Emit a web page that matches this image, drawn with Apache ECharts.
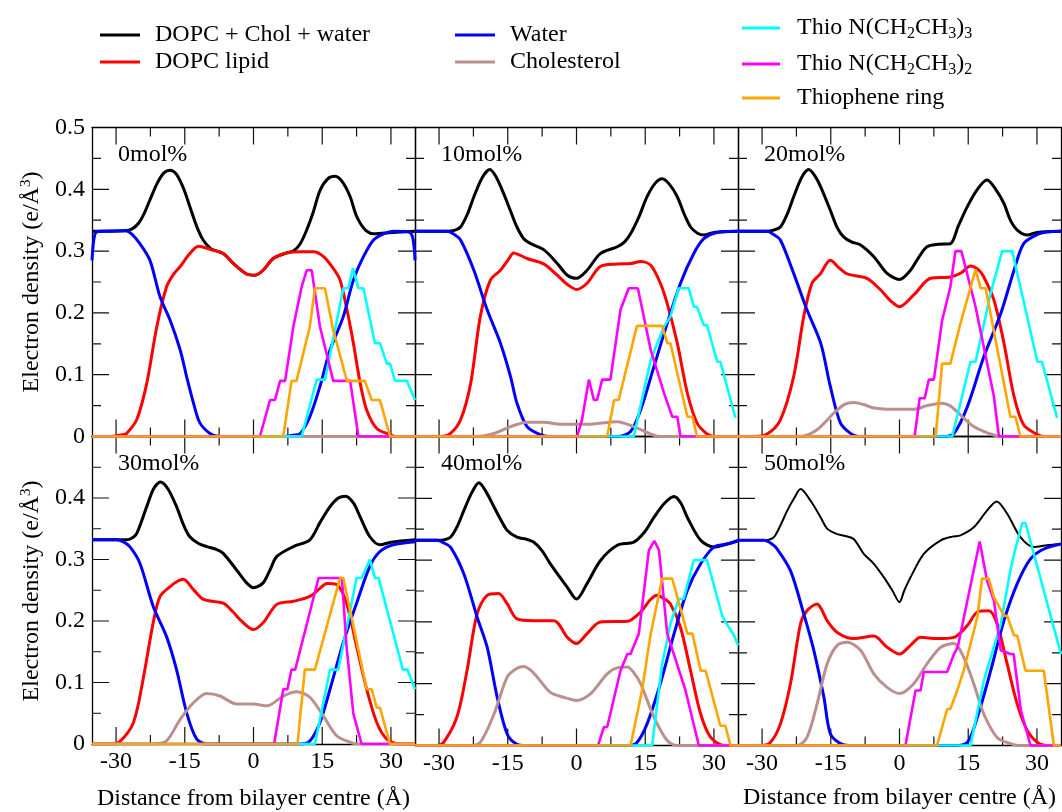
<!DOCTYPE html>
<html>
<head>
<meta charset="utf-8">
<title>Electron density profiles</title>
<script src="https://cdn.jsdelivr.net/npm/echarts@6/dist/echarts.min.js"></script>
<style>
  html, body { margin: 0; padding: 0; background: #fff; }
  #chart { width: 1062px; height: 812px; }
</style>
</head>
<body>
<div id="chart"></div>
<script>
// ---- data -------------------------------------------------------------
const panelLabels = ['0mol%', '10mol%', '20mol%', '30mol%', '40mol%', '50mol%'];
const seriesNames = ['DOPC + Chol + water', 'DOPC lipid', 'Water', 'Cholesterol',
  'Thio N(CH2CH3)3', 'Thio N(CH2CH3)2', 'Thiophene ring'];
const seriesColors = ['#000000', '#ff0000', '#0000ff', '#bc8f8f', '#00ffff', '#ff00ff', '#ffa500'];
const xMajorTicks = [-30, -15, 0, 15, 30];
const xMinorTicks = [-22.5, -7.5, 7.5, 22.5];
const yMajorTicks = [0.1, 0.2, 0.3, 0.4];
const yMinorTicks = [0.05, 0.15, 0.25, 0.35, 0.45];
const X_MIN = -35.25, X_MAX = 35.25;

// total density (DOPC + Chol + water), one profile per cholesterol content
const totalDensity = [
  [[-35.25,0.332],[-28,0.333],[-26.5,0.336],[-25.1,0.345],[-23.8,0.362],[-22.6,0.383],[-21,0.41],[-19.5,0.427],[-18.2,0.431],[-16.8,0.424],[-15.2,0.4],[-13.9,0.372],[-12.4,0.34],[-11,0.318],[-9.5,0.305],[-8.8,0.302],[-6.6,0.296],[-4.4,0.28],[-1.5,0.263],[0.3,0.261],[2.1,0.269],[4.3,0.288],[7.2,0.297],[8.7,0.3],[10.2,0.312],[11.6,0.334],[13,0.362],[14.5,0.398],[16.2,0.417],[17.8,0.421],[19.4,0.412],[21.1,0.388],[22.3,0.36],[23.3,0.345],[24.6,0.333],[26.2,0.328],[28,0.329],[35.25,0.332]],
  [[-35.25,0.332],[-28.2,0.332],[-26.5,0.334],[-25.3,0.339],[-23.8,0.36],[-22.4,0.388],[-20.5,0.42],[-18.9,0.432],[-17.4,0.418],[-15.9,0.393],[-14.4,0.365],[-13,0.339],[-11.5,0.32],[-10,0.312],[-7.1,0.302],[-4.2,0.28],[-2,0.261],[0,0.256],[2.3,0.269],[5.2,0.296],[8.9,0.307],[10.5,0.315],[11.8,0.328],[13.6,0.355],[15.4,0.388],[17.2,0.41],[18.7,0.417],[20.3,0.408],[22,0.388],[23.5,0.36],[24.9,0.339],[26.4,0.329],[27.8,0.326],[30,0.33],[35.25,0.332]],
  [[-35.25,0.332],[-28.9,0.332],[-27.5,0.334],[-26,0.339],[-24.5,0.36],[-23.1,0.388],[-21.3,0.42],[-19.8,0.432],[-18.5,0.422],[-17.2,0.404],[-15.1,0.366],[-13.6,0.338],[-12.2,0.323],[-10.5,0.315],[-8.5,0.31],[-5.6,0.291],[-2.7,0.264],[0,0.254],[2.4,0.269],[4.2,0.29],[6,0.307],[8.5,0.311],[11.1,0.312],[12.8,0.34],[14.8,0.372],[17,0.4],[19.1,0.415],[21,0.4],[22.8,0.377],[24.2,0.35],[25.7,0.334],[27.9,0.326],[30,0.33],[35.25,0.332]],
  [[-35.25,0.332],[-27.7,0.332],[-26.5,0.335],[-25.5,0.342],[-23.3,0.386],[-21.8,0.415],[-20.3,0.426],[-18.7,0.415],[-16.8,0.386],[-15.2,0.355],[-13.9,0.337],[-12,0.326],[-10.2,0.321],[-8,0.316],[-6.6,0.31],[-3.7,0.283],[-1.5,0.262],[0,0.254],[2.1,0.262],[3.6,0.283],[5.1,0.305],[8.7,0.321],[12.3,0.332],[14.5,0.36],[16.7,0.386],[18.5,0.4],[20.1,0.403],[21.8,0.392],[23.3,0.369],[25.4,0.337],[27.6,0.324],[30,0.328],[35.25,0.332]],
  [[-35.25,0.332],[-30.4,0.332],[-28.8,0.333],[-27.5,0.337],[-26,0.355],[-24.6,0.38],[-22.8,0.41],[-21.3,0.425],[-19.7,0.41],[-18,0.386],[-16.5,0.365],[-15.1,0.348],[-13,0.337],[-11,0.334],[-9.3,0.329],[-7.5,0.315],[-5.7,0.294],[-2,0.256],[0,0.237],[2.3,0.262],[5.2,0.299],[8.9,0.324],[12.5,0.329],[14.8,0.345],[16.9,0.369],[19.2,0.392],[21.3,0.403],[22.8,0.392],[24.2,0.369],[27.1,0.332],[30,0.321],[32.9,0.326],[35.25,0.332]],
  [[-35.25,0.332],[-29.6,0.332],[-28.5,0.333],[-27.4,0.337],[-26,0.356],[-24.5,0.38],[-23,0.4],[-21.6,0.415],[-19.4,0.396],[-17.2,0.369],[-15.8,0.351],[-13.6,0.342],[-11.8,0.339],[-10,0.334],[-7.8,0.31],[-5.6,0.294],[-3.4,0.272],[-1.5,0.25],[0,0.232],[1,0.25],[2.4,0.272],[5.3,0.31],[9,0.332],[11.5,0.338],[13.3,0.34],[16.2,0.353],[19.1,0.38],[21.2,0.395],[23.5,0.375],[26.4,0.337],[29.3,0.321],[32.2,0.324],[35.25,0.326]]
];

// DOPC lipid density
const lipidDensity = [
  [[-35.25,0],[-31,0],[-28.5,0.003],[-27.7,0.005],[-25.5,0.027],[-23.3,0.086],[-21.1,0.178],[-19,0.242],[-17.5,0.262],[-16,0.275],[-13.9,0.296],[-12,0.308],[-9.5,0.303],[-6.6,0.296],[-4.4,0.28],[-1.5,0.263],[0.3,0.261],[2.1,0.269],[4.3,0.288],[7.2,0.297],[10.2,0.299],[13.1,0.299],[15.3,0.291],[17.4,0.272],[18.9,0.253],[20.4,0.205],[21.8,0.151],[23.3,0.086],[24.7,0.043],[26.9,0.013],[29.8,0.003],[31,0],[35.25,0]],
  [[-35.25,0],[-29.7,0],[-27.5,0.005],[-25.3,0.027],[-23.1,0.086],[-21,0.194],[-18.8,0.253],[-16.6,0.269],[-15,0.285],[-13.7,0.297],[-12.5,0.294],[-10.8,0.288],[-7.1,0.279],[-4.2,0.261],[-2,0.246],[0,0.238],[2.3,0.248],[5.2,0.275],[8.9,0.279],[12,0.28],[14,0.283],[16.2,0.277],[18.3,0.248],[19.8,0.215],[22,0.151],[24.2,0.07],[26.3,0.022],[28.5,0.004],[30,0],[35.25,0]],
  [[-35.25,0],[-31.8,0],[-28.9,0.004],[-26,0.027],[-23.1,0.097],[-20.9,0.194],[-19.1,0.248],[-17.2,0.264],[-16,0.279],[-15.1,0.285],[-13.5,0.275],[-11.4,0.263],[-7.1,0.256],[-4.1,0.237],[-2,0.22],[0,0.21],[3.1,0.229],[6.8,0.256],[11.1,0.258],[13.5,0.265],[15.5,0.276],[17.2,0.27],[18.4,0.258],[20.6,0.221],[22.8,0.151],[25,0.065],[27.1,0.019],[30.1,0.003],[31.5,0],[35.25,0]],
  [[-35.25,0],[-31.3,0],[-29.2,0.004],[-26.2,0.035],[-24.1,0.105],[-21.9,0.197],[-20.4,0.24],[-18.2,0.256],[-16.5,0.265],[-15.3,0.268],[-13.1,0.251],[-10.9,0.235],[-6.6,0.229],[-4.5,0.215],[-2.9,0.202],[0,0.186],[2.1,0.197],[5.1,0.227],[8.7,0.232],[12.3,0.24],[14.5,0.253],[16,0.261],[18.2,0.259],[20.3,0.229],[22.5,0.159],[24.7,0.089],[26.9,0.035],[29.1,0.008],[32,0],[35.25,0]],
  [[-35.25,0],[-30.5,0],[-29,0.005],[-26.1,0.046],[-23.9,0.121],[-21.7,0.213],[-19.5,0.243],[-17,0.246],[-15.1,0.229],[-13,0.205],[-9.3,0.202],[-4.9,0.202],[-2,0.175],[0,0.165],[2.3,0.181],[5.2,0.2],[11.1,0.201],[14,0.216],[16,0.235],[17.6,0.243],[19,0.238],[20.5,0.229],[22.7,0.191],[24.9,0.121],[27.1,0.051],[29.3,0.013],[32.2,0],[35.25,0]],
  [[-35.25,0],[-30.5,0],[-28.2,0.005],[-26,0.035],[-23.8,0.1],[-21.6,0.197],[-20.2,0.218],[-18,0.229],[-17,0.22],[-15.8,0.202],[-13.6,0.183],[-10,0.173],[-5.6,0.177],[-2.7,0.159],[0,0.148],[2.4,0.162],[4.6,0.175],[8.2,0.173],[11.9,0.175],[14.8,0.194],[17,0.216],[19.5,0.218],[21.3,0.197],[23.5,0.132],[25.7,0.067],[27.9,0.024],[30.1,0.005],[32,0],[35.25,0]]
];

// water density
const waterDensity = [
  [[-35.25,0.285],[-34.6,0.328],[-33.5,0.332],[-28,0.333],[-26.5,0.327],[-24.8,0.312],[-22.6,0.285],[-20.4,0.226],[-18.2,0.188],[-16,0.14],[-14.6,0.097],[-13.1,0.054],[-11.7,0.022],[-9.5,0.005],[-7.5,0],[6.5,0],[8.5,0.002],[10.2,0.005],[12.3,0.032],[14.5,0.081],[16.7,0.14],[19.6,0.194],[21.8,0.253],[24,0.291],[26.2,0.318],[28.4,0.328],[30.5,0.332],[34.2,0.33],[35.25,0.285]],
  [[-35.25,0.332],[-28.2,0.332],[-26.7,0.327],[-25.3,0.318],[-22.4,0.269],[-19.5,0.205],[-16.6,0.151],[-14.4,0.097],[-13,0.054],[-10.8,0.016],[-7.9,0.003],[-6,0],[8.9,0],[11.8,0.008],[14,0.043],[16.9,0.113],[19.8,0.183],[22.7,0.248],[25.6,0.296],[27.8,0.32],[30.7,0.33],[35.25,0.332]],
  [[-35.25,0.332],[-28.9,0.332],[-27.5,0.327],[-26,0.318],[-23.1,0.264],[-20.2,0.205],[-17.2,0.151],[-15.1,0.081],[-12.9,0.022],[-10.7,0.005],[-9,0],[10,0],[11.9,0.005],[14.8,0.048],[18.4,0.129],[22.1,0.199],[25,0.269],[27.1,0.312],[30.1,0.327],[32,0.331],[35.25,0.332]],
  [[-35.25,0.332],[-29.9,0.332],[-28.5,0.329],[-27,0.321],[-24.8,0.294],[-21.9,0.224],[-19,0.175],[-16.8,0.121],[-14.6,0.051],[-12.4,0.008],[-10,0],[10.1,0],[12.3,0.005],[14.5,0.035],[16.7,0.089],[19.6,0.165],[22.5,0.229],[25.4,0.289],[27.6,0.313],[30.5,0.324],[35.25,0.329]],
  [[-35.25,0.332],[-30.4,0.332],[-29,0.328],[-27.5,0.321],[-24.6,0.278],[-21.7,0.208],[-19.5,0.159],[-17.3,0.078],[-15.1,0.018],[-13,0.002],[-11,0],[11.1,0],[13.2,0.005],[15.4,0.035],[18.3,0.1],[21.3,0.181],[24.2,0.251],[27.1,0.294],[30,0.321],[32.9,0.326],[35.25,0.331]],
  [[-35.25,0.332],[-29.6,0.332],[-28,0.327],[-26.7,0.318],[-23.8,0.283],[-20.9,0.213],[-18.7,0.154],[-16.5,0.078],[-15.1,0.019],[-12.9,0.003],[-11,0],[11.9,0],[14.8,0.005],[17,0.046],[19.9,0.121],[22.8,0.202],[25.7,0.262],[28.6,0.302],[31.5,0.318],[35.25,0.326]]
];

// cholesterol density
const cholDensity = [
  [[-35.25,0],[35.25,0]],
  [[-35.25,0],[-21.7,0],[-18,0.005],[-14.4,0.016],[-10.8,0.023],[-7.1,0.023],[-3.5,0.02],[2.3,0.02],[8.9,0.024],[12.5,0.016],[16.2,0.004],[18,0],[35.25,0]],
  [[-35.25,0],[-21.6,0],[-18,0.011],[-14.3,0.038],[-12,0.052],[-10,0.055],[-7.5,0.051],[-5.6,0.046],[-1.2,0.044],[3.1,0.044],[6,0.05],[9.3,0.054],[11,0.05],[12.6,0.04],[16.2,0.016],[19.9,0.004],[22,0],[35.25,0]],
  [[-35.25,0],[-21.9,0],[-19,0.005],[-16,0.04],[-13.1,0.067],[-10.2,0.082],[-7.3,0.078],[-3.7,0.065],[0,0.065],[2.9,0.062],[6.5,0.078],[9.4,0.085],[12.3,0.076],[15.2,0.046],[18.2,0.013],[21.8,0.001],[23,0],[35.25,0]],
  [[-35.25,0],[-23.1,0],[-21,0.005],[-18,0.051],[-15.1,0.111],[-13,0.125],[-11.5,0.128],[-10,0.122],[-8.6,0.111],[-5.7,0.086],[-2.8,0.078],[0,0.073],[3.1,0.084],[6.7,0.116],[9,0.126],[11.1,0.127],[12.5,0.118],[14,0.1],[16.9,0.046],[19.8,0.008],[22,0],[35.25,0]],
  [[-35.25,0],[-22.3,0],[-20.2,0.013],[-18,0.067],[-15.8,0.132],[-13.6,0.162],[-11.4,0.167],[-8.5,0.154],[-5.6,0.116],[-2.7,0.094],[0,0.084],[3.1,0.1],[6,0.132],[9,0.159],[11.9,0.165],[14,0.143],[16.2,0.1],[18.4,0.051],[21.3,0.013],[24.2,0.003],[26,0],[35.25,0]]
];

// Thio N(CH2CH3)3 group density
const thioN3Density = [
  [[-35.25,0],[10.5,0],[13.8,0.092],[15.6,0.092],[19.6,0.24],[20.7,0.24],[21.7,0.272],[22.9,0.24],[24,0.24],[26.5,0.151],[27.6,0.151],[29.1,0.118],[29.8,0.118],[30.9,0.09],[33.5,0.09],[35.25,0.059]],
  [[-35.25,0],[12.5,0],[16.2,0.124],[19.1,0.178],[20.5,0.194],[22.3,0.24],[24.5,0.24],[25.6,0.21],[26.3,0.21],[27.8,0.18],[28.5,0.18],[30.7,0.121],[31.4,0.121],[34.7,0.03]],
  [[-35.25,0],[11.5,0],[15.5,0.121],[16.6,0.121],[19.9,0.232],[22.4,0.3],[24.6,0.3],[30.1,0.121],[31.1,0.121],[34.4,0.03]],
  [[-35.25,0],[13.4,0],[16.7,0.121],[18.5,0.121],[22.5,0.27],[23.6,0.27],[25.4,0.3],[26.5,0.27],[27.3,0.27],[32.6,0.121],[33.6,0.121],[35.25,0.089]],
  [[-35.25,0],[16.5,0],[18.7,0.132],[20.5,0.197],[22.3,0.237],[23.4,0.237],[25.6,0.3],[28.5,0.3],[31.8,0.21],[32.5,0.2],[34.4,0.178],[35.25,0.162]],
  [[-35.25,0],[15.5,0],[18.4,0.105],[22.1,0.197],[24.2,0.283],[25,0.31],[26.8,0.36],[27.5,0.36],[35.25,0.148]]
];

// Thio N(CH2CH3)2 group density
const thioN2Density = [
  [[-35.25,0],[1.4,0],[3.6,0.059],[4.7,0.059],[5.8,0.09],[6.9,0.09],[8.7,0.178],[10.5,0.242],[11.6,0.269],[12.7,0.269],[14.5,0.178],[17.4,0.09],[21.1,0.09],[22.9,0],[35.25,0]],
  [[-35.25,0],[0.1,0],[1.2,0.027],[2.7,0.092],[3.8,0.059],[4.5,0.059],[5.6,0.092],[7.4,0.092],[9.6,0.205],[11.4,0.24],[13.4,0.24],[16.2,0.14],[19.1,0.07],[20.9,0.032],[22,0.032],[22.7,0],[35.25,0]],
  [[-35.25,0],[3.3,0],[4.4,0.062],[5.5,0.062],[6.4,0.092],[7.5,0.092],[9.3,0.188],[11.1,0.242],[12.2,0.3],[13.5,0.3],[16.6,0.21],[20.6,0.065],[21.7,0],[35.25,0]],
  [[-35.25,0],[4.5,0],[6.5,0.089],[7.4,0.089],[8.3,0.121],[9.1,0.121],[14.2,0.27],[19.3,0.27],[20.3,0.159],[21.8,0.049],[23.6,0],[35.25,0]],
  [[-35.25,0],[4.7,0],[6,0.03],[6.7,0.03],[9.6,0.121],[11.1,0.148],[11.8,0.148],[13.6,0.181],[15.8,0.316],[17,0.331],[18,0.316],[19.8,0.181],[23.8,0.089],[26.7,0],[35.25,0]],
  [[-35.25,0],[1.3,0],[3.5,0.089],[4.6,0.089],[5.3,0.119],[10.4,0.119],[11.9,0.148],[12.7,0.159],[17.5,0.33],[19.1,0.267],[20.6,0.235],[22.1,0.154],[24.2,0.148],[24.9,0.148],[26.5,0.057],[28.6,0],[35.25,0]]
];

// thiophene ring density
const ringDensity = [
  [[-35.25,0],[6.5,0],[8.3,0.09],[9.4,0.09],[12.3,0.178],[13.4,0.24],[15.6,0.24],[17.4,0.172],[20.4,0.09],[24.3,0.09],[25.8,0.059],[27.6,0.059],[29.8,0],[35.25,0]],
  [[-35.25,0],[6.7,0],[8.2,0.059],[9.2,0.059],[13.2,0.179],[18.7,0.179],[19.8,0.151],[20.5,0.151],[24.2,0.032],[25.3,0.032],[26.3,0],[35.25,0]],
  [[-35.25,0],[7.9,0],[9.3,0.118],[11.1,0.118],[13.3,0.183],[16.6,0.27],[17.7,0.24],[18.8,0.24],[24.2,0.032],[25.3,0.032],[26.4,0],[35.25,0]],
  [[-35.25,0],[9.6,0],[11.2,0.121],[13.4,0.121],[18.9,0.27],[19.6,0.27],[24.7,0.089],[25.8,0.089],[26.9,0.059],[27.6,0.059],[29.8,0],[35.25,0]],
  [[-35.25,0],[11.8,0],[14.3,0.089],[15.4,0.143],[16.2,0.181],[18.7,0.27],[20.9,0.27],[24.2,0.181],[25.3,0.181],[27.1,0.121],[28.2,0.121],[31.4,0.032],[32.5,0.032],[33.6,0],[35.25,0]],
  [[-35.25,0],[8.2,0],[10.4,0.059],[11.1,0.059],[12.6,0.089],[14,0.121],[17,0.208],[18,0.27],[19.5,0.27],[20.6,0.24],[22.8,0.21],[23.5,0.21],[25,0.178],[25.7,0.178],[27.5,0.121],[31.5,0.121],[33.7,0],[35.25,0]]
];

// ---- chart ------------------------------------------------------------
const FONT = '"Liberation Serif", "Times New Roman", serif';
const profiles = [totalDensity, lipidDensity, waterDensity, cholDensity, thioN3Density, thioN2Density, ringDensity];
const smoothCurve = [true, true, true, true, false, false, false];

const PANEL_W = 323, PANEL_H = 309;
const PANEL_LEFT = 92;
const PANEL_TOPS = [127.5, 436.5];
const Y_MAX = 0.5;
const MAJOR_LEN = 17, MINOR_LEN = 9;   // tick lengths in pixels

const axisLineStyle = { color: '#000', width: 1.3 };

// Inward frame ticks on all four sides, as broken line segments in axis units.
function frameTicks() {
  const ux = (X_MAX - X_MIN) / PANEL_W, uy = Y_MAX / PANEL_H;
  const gap = ['-', '-'];
  const pts = [];
  const xTick = (v, len) => {
    pts.push([v, 0], [v, len * uy], gap, [v, Y_MAX], [v, Y_MAX - len * uy], gap);
  };
  const yTick = (v, len) => {
    pts.push([X_MIN, v], [X_MIN + len * ux, v], gap, [X_MAX, v], [X_MAX - len * ux, v], gap);
  };
  xMajorTicks.forEach(v => xTick(v, MAJOR_LEN));
  xMinorTicks.forEach(v => xTick(v, MINOR_LEN));
  yMajorTicks.forEach(v => yTick(v, MAJOR_LEN));
  yMinorTicks.forEach(v => yTick(v, MINOR_LEN));
  return pts;
}
const tickPoints = frameTicks();

const grids = [], xAxes = [], yAxes = [], series = [], titles = [];

panelLabels.forEach((label, i) => {
  const col = i % 3, row = Math.floor(i / 3);
  const left = PANEL_LEFT + col * PANEL_W, top = PANEL_TOPS[row];
  grids.push({ left, top, width: PANEL_W, height: PANEL_H });

  titles.push({
    text: label, left: left + 26, top: top + 15, padding: 0,
    textStyle: { fontFamily: FONT, fontSize: 24, fontWeight: 'normal', color: '#000' }
  });

  const xBase = { type: 'value', gridIndex: i, min: X_MIN, max: X_MAX,
    splitLine: { show: false }, axisTick: { show: false } };
  const hasName = (i === 3 || i === 5);

  const bottomAxis = Object.assign({}, xBase, {
    position: 'bottom',
    axisLine: { show: true, onZero: false, lineStyle: axisLineStyle },
    axisLabel: { show: row === 1, customValues: xMajorTicks, margin: 6,
      fontFamily: FONT, fontSize: 24, color: '#000' }
  });
  if (hasName) {
    Object.assign(bottomAxis, {
      name: 'Distance from bilayer centre (Å)',
      nameLocation: 'middle', nameGap: i === 3 ? 43 : 40,
      nameTextStyle: { fontFamily: FONT, fontSize: 24, color: '#000' }
    });
  }
  xAxes.push(bottomAxis);
  xAxes.push(Object.assign({}, xBase, {
    position: 'top', axisLine: { show: true, onZero: false, lineStyle: axisLineStyle },
    axisLabel: { show: false }
  }));

  const yBase = {
    type: 'value', gridIndex: i, min: 0, max: Y_MAX, interval: 0.1,
    axisLine: { show: true, onZero: false, lineStyle: axisLineStyle },
    axisTick: { show: false },
    splitLine: { show: false }
  };
  yAxes.push(Object.assign({}, yBase, {
    position: 'left',
    axisLabel: { show: col === 0, showMaxLabel: row === 0, margin: 7,
      fontFamily: FONT, fontSize: 24, color: '#000' }
  }));
  yAxes.push(Object.assign({}, yBase, { position: 'right', axisLabel: { show: false } }));

  series.push({
    type: 'line', name: 'frame ticks', xAxisIndex: i * 2, yAxisIndex: i * 2,
    data: tickPoints, showSymbol: false, symbol: 'none', smooth: false,
    connectNulls: false, silent: true, clip: false,
    lineStyle: { color: '#111', width: 1.2 },
    emphasis: { disabled: true }, z: 2
  });

  seriesNames.forEach((name, k) => {
    series.push({
      name, type: 'line',
      xAxisIndex: i * 2, yAxisIndex: i * 2,
      data: profiles[k][i],
      showSymbol: false, symbol: 'none',
      smooth: smoothCurve[k] ? 0.3 : false,
      lineStyle: { color: seriesColors[k], width: (k === 0 && i === 5) ? 2 : (k >= 4 ? 2.6 : 3) },
      itemStyle: { color: seriesColors[k] },
      emphasis: { disabled: true },
      z: 2 + k
    });
  });
});

// legend text with chemical subscripts
const subRich = {
  a: { fontFamily: FONT, fontSize: 24, color: '#000', lineHeight: 28 },
  s: { fontFamily: FONT, fontSize: 16, color: '#000', lineHeight: 16, padding: [12, 0, 0, 0] }
};
const legendLabels = {
  'Thio N(CH2CH3)3': '{a|Thio N(CH}{s|2}{a|CH}{s|3}{a|)}{s|3}',
  'Thio N(CH2CH3)2': '{a|Thio N(CH}{s|2}{a|CH}{s|3}{a|)}{s|2}',
  'Thiophene ring': '{a|Thiophene ring}'
};
const legendCommon = {
  orient: 'vertical', icon: 'rect', itemWidth: 40, itemHeight: 3,
  selectedMode: false, padding: 0,
  textStyle: { fontFamily: FONT, fontSize: 24, color: '#000', lineHeight: 24, padding: [0, 0, 0, 10] }
};

// y-axis titles with a superscript
const yNameRich = {
  a: { fontFamily: FONT, fontSize: 24, fill: '#000', lineHeight: 28 },
  s: { fontFamily: FONT, fontSize: 15, fill: '#000', lineHeight: 16, padding: [0, 0, 12, 0] }
};
const yNameText = '{a|Electron density (e/Å}{s|3}{a|)}';

const option = {
  animation: false,
  title: titles,
  legend: [
    Object.assign({}, legendCommon, { data: seriesNames.slice(0, 2), left: 100, top: 23, itemGap: 3 }),
    Object.assign({}, legendCommon, { data: seriesNames.slice(2, 4), left: 455, top: 23, itemGap: 3 }),
    Object.assign({}, legendCommon, {
      data: seriesNames.slice(4), left: 742, top: 14, itemGap: 8, itemWidth: 38,
      formatter: name => legendLabels[name],
      textStyle: { fontFamily: FONT, fontSize: 24, color: '#000', padding: [0, 0, 0, 12], rich: subRich }
    })
  ],
  grid: grids,
  xAxis: xAxes,
  yAxis: yAxes,
  series,
  graphic: [282, 591].map(cy => ({
    type: 'text', x: 32, y: cy, rotation: Math.PI / 2, silent: true, z: 100,
    style: { text: yNameText, rich: yNameRich, fill: '#000',
      align: 'center', verticalAlign: 'middle', textAlign: 'center', textVerticalAlign: 'middle' }
  }))
};

const chart = echarts.init(document.getElementById('chart'), null, { renderer: 'canvas' });
chart.setOption(option);
</script>
</body>
</html>
